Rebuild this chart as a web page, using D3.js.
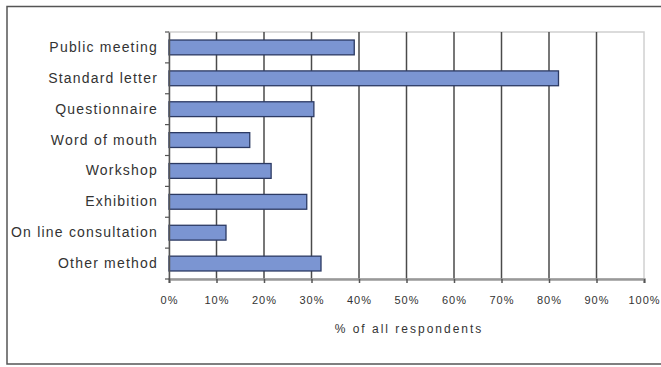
<!DOCTYPE html>
<html lang="en">
<head>
  <meta charset="UTF-8">
  <title>Consultation methods</title>
  <script src="https://d3js.org/d3.v7.min.js"></script>
  <style>
    body { margin: 0; background: #fff; }
    svg text { font-family: "Liberation Sans", Arial, sans-serif; fill: #333; }
  </style>
</head>
<body>
  <svg id="chart" width="661" height="367"></svg>
  <script>
    const categories = ["Public meeting", "Standard letter", "Questionnaire", "Word of mouth",
      "Workshop", "Exhibition", "On line consultation", "Other method"];
    const values = [39, 82, 30.5, 17, 21.5, 29, 12, 32];
    const xTicks = [0, 10, 20, 30, 40, 50, 60, 70, 80, 90, 100];

    const svg = d3.select("#chart");
    const margin = { left: 169, right: 17, top: 32, bottom: 88 };
    const width = 661, height = 367;

    // outer frame
    svg.append("rect")
      .attr("x", 7).attr("y", 6.5).attr("width", 680).attr("height", 357.5)
      .attr("fill", "none").attr("stroke", "#555").attr("stroke-width", 1.5);

    const x = d3.scaleLinear().domain([0, 100]).range([margin.left, width - margin.right]);
    const y = d3.scaleBand().domain(categories).range([margin.top, height - margin.bottom]).paddingInner(0.52).paddingOuter(0.26);

    // plot border
    svg.append("rect")
      .attr("x", x(0)).attr("y", margin.top)
      .attr("width", x(100) - x(0)).attr("height", height - margin.bottom - margin.top)
      .attr("fill", "none").attr("stroke", "#d0d0d0").attr("stroke-width", 1.5);

    // gridlines
    svg.append("g").selectAll("line")
      .data(xTicks.filter(d => d > 0 && d < 100))
      .join("line")
      .attr("x1", d => x(d)).attr("x2", d => x(d))
      .attr("y1", margin.top).attr("y2", height - margin.bottom)
      .attr("stroke", "#4a4a4a").attr("stroke-width", 1.5);

    // bars
    svg.append("g").selectAll("rect")
      .data(categories)
      .join("rect")
      .attr("x", x(0))
      .attr("y", d => y(d))
      .attr("width", (d, i) => x(values[i]) - x(0))
      .attr("height", y.bandwidth())
      .attr("fill", "#7b95d2")
      .attr("stroke", "#2c3a63").attr("stroke-width", 1.3);

    // x axis
    const xAxis = svg.append("g")
      .attr("transform", `translate(0,${height - margin.bottom})`)
      .call(d3.axisBottom(x).tickValues(xTicks).tickFormat(d => d + "%").tickSize(4).tickPadding(13));
    xAxis.select(".domain").attr("stroke", "#999").attr("stroke-width", 2.5);
    xAxis.selectAll(".tick line").attr("stroke", "#555").attr("stroke-width", 1.5);
    xAxis.selectAll("text").attr("font-size", 11).attr("letter-spacing", 1).attr("fill", "#444");

    // y axis
    const yAxis = svg.append("g")
      .attr("transform", `translate(${x(0)},0)`)
      .call(d3.axisLeft(y).tickSize(0).tickPadding(11));
    yAxis.select(".domain").attr("stroke", "#555").attr("stroke-width", 1.5);
    yAxis.selectAll("text").attr("font-size", 14).attr("letter-spacing", 1.2).attr("fill", "#333");

    // category separators on y axis
    const step = y.step();
    svg.append("g").selectAll("line")
      .data(d3.range(categories.length + 1))
      .join("line")
      .attr("x1", x(0) - 4).attr("x2", x(0))
      .attr("y1", i => margin.top + i * step).attr("y2", i => margin.top + i * step)
      .attr("stroke", "#555").attr("stroke-width", 1.2);

    svg.append("text")
      .attr("x", 409)
      .attr("y", 333)
      .attr("text-anchor", "middle")
      .attr("font-size", 12)
      .attr("letter-spacing", 2)
      .attr("fill", "#333")
      .text("% of all respondents");
  </script>
</body>
</html>
